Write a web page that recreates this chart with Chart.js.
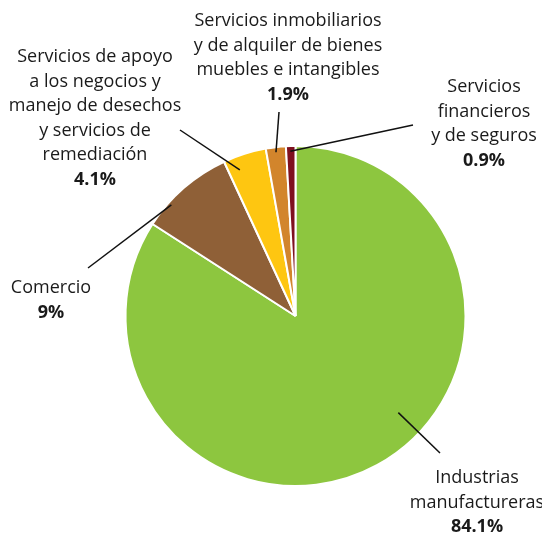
<!DOCTYPE html>
<html>
<head>
<meta charset="utf-8">
<script src="https://cdn.jsdelivr.net/npm/chart.js@4"></script>
<style>
  html, body { margin: 0; padding: 0; background: #fff; }
  #wrap { width: 542px; height: 535px; }
</style>
</head>
<body>
<div id="wrap"><canvas id="pieChart" width="542" height="535"></canvas></div>
<script>
const sectors = [
  ["Industrias", "manufactureras"],
  ["Comercio"],
  ["Servicios de apoyo", "a los negocios y", "manejo de desechos", "y servicios de", "remediación"],
  ["Servicios inmobiliarios", "y de alquiler de bienes", "muebles e intangibles"],
  ["Servicios", "financieros", "y de seguros"]
];
const shares = [84.1, 9, 4.1, 1.9, 0.9];
const shareLabels = ["84.1%", "9%", "4.1%", "1.9%", "0.9%"];
const colors = ["#8dc63f", "#8f6037", "#fec611", "#d2852c", "#7f101f"];

// where each label sits and where its leader line touches the slice
// t = position across the slice, k = fraction of the radius
const labelSpots = [
  { x: 477, y: 478, t: 0.44, k: 0.83, lx: 440, ly: 453 },
  { x: 51,  y: 288, t: 0.28, k: 0.98, lx: 88,  ly: 268 },
  { x: 95,  y: 57,  t: 0.27, k: 0.92, lx: 180, ly: 130 },
  { x: 288, y: 21,  t: 0.48, k: 0.97, lx: 279, ly: 112 },
  { x: 484, y: 87,  t: 0.45, k: 0.97, lx: 413, ly: 125 }
];
const lineGap = 24.5;

const calloutPlugin = {
  id: "callouts",
  afterDraw(chart) {
    const ctx = chart.ctx;
    const arcs = chart.getDatasetMeta(0).data;
    ctx.save();
    arcs.forEach((arc, i) => {
      const spot = labelSpots[i];
      const a = arc.startAngle + spot.t * (arc.endAngle - arc.startAngle);
      const r = arc.outerRadius * spot.k;
      ctx.beginPath();
      ctx.moveTo(arc.x + Math.cos(a) * r, arc.y + Math.sin(a) * r);
      ctx.lineTo(spot.lx, spot.ly);
      ctx.strokeStyle = "#111";
      ctx.lineWidth = 1.5;
      ctx.stroke();

      ctx.fillStyle = "#1a1a1a";
      ctx.textAlign = "center";
      ctx.textBaseline = "middle";
      ctx.font = "18px 'Open Sans'";
      sectors[i].forEach((line, j) => {
        ctx.fillText(line, spot.x, spot.y + j * lineGap);
      });
      ctx.font = "bold 18px 'Open Sans'";
      ctx.fillText(shareLabels[i], spot.x, spot.y + sectors[i].length * lineGap);
    });
    ctx.restore();
  }
};

new Chart(document.getElementById("pieChart"), {
  type: "pie",
  data: {
    labels: sectors.map(s => s.join(" ")),
    datasets: [{
      data: shares,
      backgroundColor: colors,
      borderColor: "#ffffff",
      borderWidth: 2,
      hoverOffset: 0
    }]
  },
  options: {
    responsive: false,
    animation: false,
    radius: 170,
    layout: { padding: { left: 115.5, right: 66.5, top: 136, bottom: 39 } },
    plugins: {
      legend: { display: false },
      tooltip: { enabled: false }
    }
  },
  plugins: [calloutPlugin]
});
</script>
</body>
</html>
